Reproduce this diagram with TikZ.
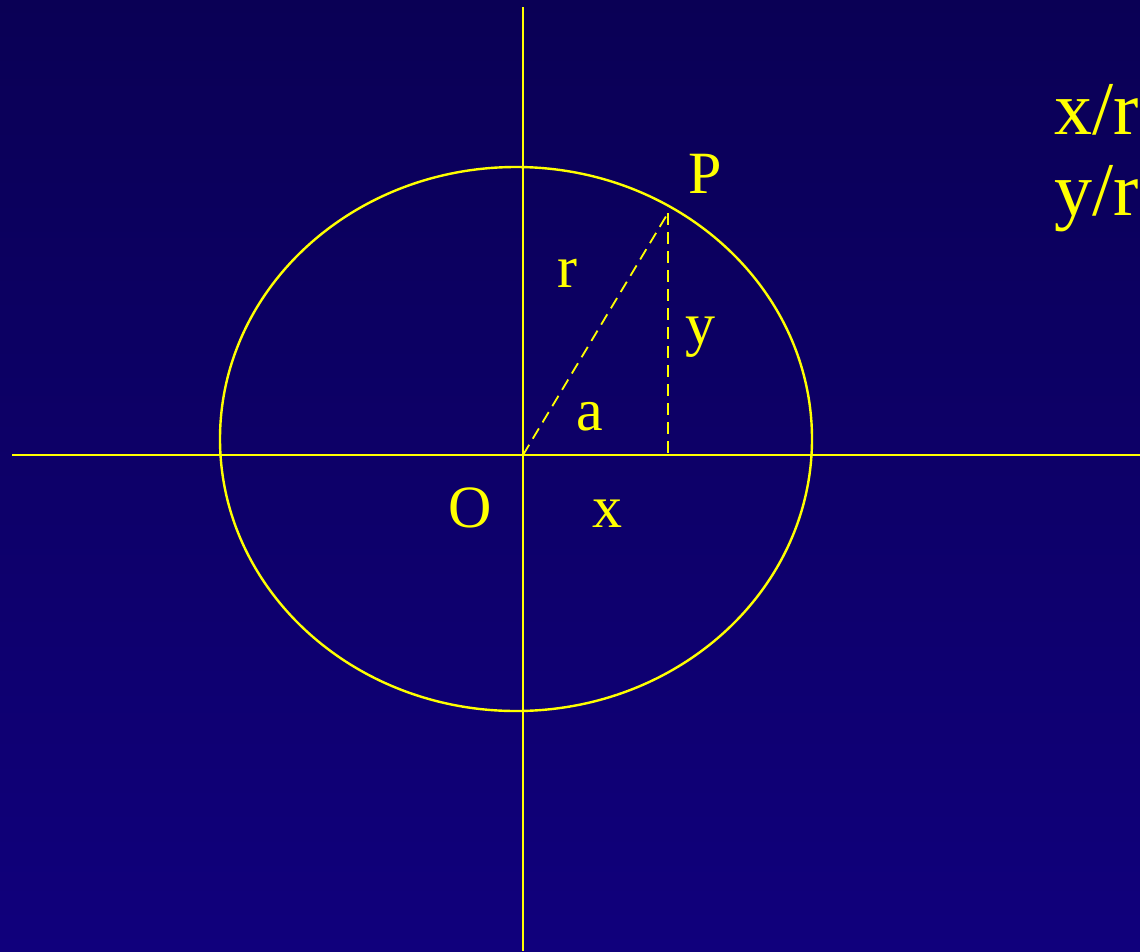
\documentclass[tikz,border=0pt]{standalone}
\usepackage{fontspec}
\setmainfont{Liberation Serif}
\newfontfamily\labelfont{Liberation Serif}
\definecolor{bgtop}{RGB}{10,0,85}
\definecolor{bgbottom}{RGB}{16,0,124}
\definecolor{ayellow}{RGB}{255,255,0}
\begin{document}
\begin{tikzpicture}[x=1pt,y=-1pt,
  axis/.style={draw=ayellow, line width=2.6pt},
  guide/.style={draw=ayellow, line width=1.8pt, dash pattern=on 12pt off 7pt},
  lbl/.style={text=ayellow, font=\labelfont\fontsize{60}{60}\selectfont, anchor=base, inner sep=0pt},
  big/.style={text=ayellow, font=\labelfont\fontsize{76}{76}\selectfont, anchor=base west, inner sep=0pt}
]

% Background
\useasboundingbox (0,0) rectangle (1140,951);
\clip (0,0) rectangle (1140,951);
\shade[top color=bgtop, bottom color=bgbottom] (0,0) rectangle (1140,951);

% Axes
\coordinate (O) at (523,455);
\draw[axis] (12,455) -- (1140,455);
\draw[axis] (523,7) -- (523,951);

% Circle (drawn as ellipse)
\draw[ayellow, line width=2.4pt] (516,439) ellipse [x radius=296pt, y radius=272pt];

% Point P and its projection on the x axis
\coordinate (Pt) at (668,213);
\coordinate (foot) at (668,453);
\draw[guide] (O) -- (Pt);
\draw[guide] (Pt) -- (foot);

% Labels
\node[lbl] (lP) at (705,193) {P};
\node[lbl] (lr) at (567,287) {r};
\node[lbl] (ly) at (700,344) {y};
\node[lbl] (la) at (590,430) {a};
\node[lbl] (lO) at (470,527) {O};
\node[lbl] (lx) at (607,527) {x};

% Ratios (cut off at the right edge)
\node[big] (xr) at (1054,134) {x/r};
\node[big] (yr) at (1054,215) {y/r};

\end{tikzpicture}
\end{document}
